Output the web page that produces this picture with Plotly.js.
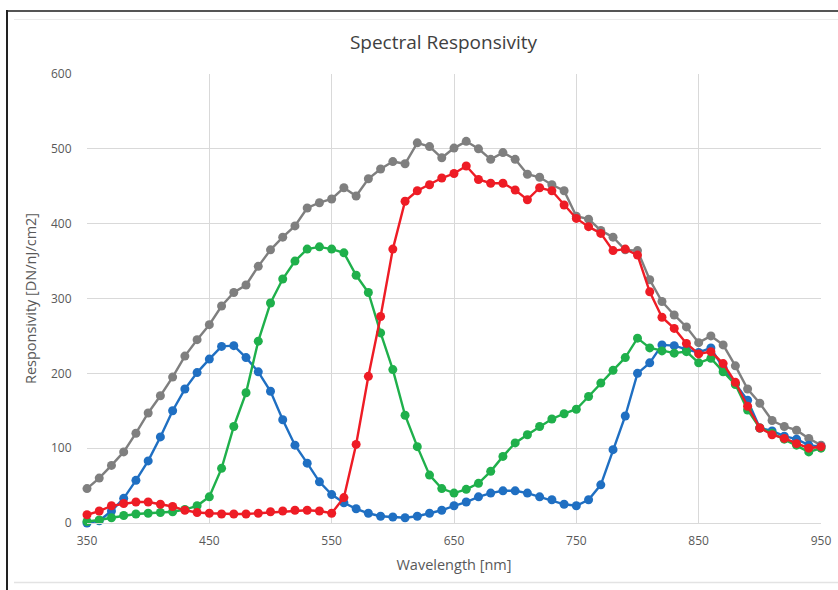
<!DOCTYPE html>
<html>
<head>
<meta charset="utf-8">
<script src="https://cdn.plot.ly/plotly-3.0.1.min.js"></script>
<style>
  html, body { margin: 0; padding: 0; background: #ffffff; }
  #chart { width: 838px; height: 590px; }
</style>
</head>
<body>
<div id="chart"></div>
<script>
// Wavelength categories (nm)
const wavelengths = [350,360,370,380,390,400,410,420,430,440,
  450,460,470,480,490,500,510,520,530,540,
  550,560,570,580,590,600,610,620,630,640,
  650,660,670,680,690,700,710,720,730,740,
  750,760,770,780,790,800,810,820,830,840,
  850,860,870,880,890,900,910,920,930,940,950];

// Responsivity values [DN/nJ/cm2]
const monoValues = [46,60,77,95,120,147,170,195,223,245,
  265,290,308,318,343,365,382,397,421,428,
  433,448,437,460,473,483,480,508,503,488,
  501,510,500,486,495,486,466,462,452,444,
  410,406,391,382,365,364,325,296,278,262,
  241,250,238,210,179,160,137,129,124,113,104];

const blueValues = [0,3,16,33,57,83,115,150,179,201,
  219,236,237,221,202,176,138,104,80,55,
  38,27,19,13,9,8,7,9,13,17,
  23,28,35,40,43,43,40,35,31,25,
  23,31,51,98,143,200,214,238,237,232,
  228,234,207,186,164,127,123,116,112,104,102];

const greenValues = [2,4,7,10,12,13,14,15,18,23,
  35,73,129,174,243,294,326,350,366,369,
  366,361,331,308,254,205,144,102,64,46,
  40,45,53,69,89,107,118,129,139,146,
  152,169,187,204,221,247,234,230,227,229,
  214,220,202,185,151,127,120,112,104,95,100];

const redValues = [11,16,23,26,28,28,25,22,17,14,
  13,12,12,12,13,15,16,17,17,16,
  13,34,105,196,276,366,430,444,452,461,
  467,477,459,454,454,445,432,448,444,425,
  407,396,387,364,366,358,309,275,260,240,
  226,229,213,188,156,127,118,113,106,100,102];

const xTicks = [350,450,550,650,750,850,950];
const yTicks = [0,100,200,300,400,500,600];

function series(name, y, color) {
  return {
    type: 'scatter', mode: 'lines+markers', name: name,
    x: wavelengths, y: y,
    cliponaxis: false,
    line: { color: color, width: 2.4 },
    marker: { color: color, size: 9, symbol: 'circle' },
    hoverinfo: 'x+y'
  };
}

const traces = [
  series('Mono', monoValues, '#7f7f7f'),
  series('Blue', blueValues, '#1f6fc2'),
  series('Green', greenValues, '#1fb04b'),
  series('Red', redValues, '#ee1c25')
];

// plot area in pixels
const L = 87, R = 821, T = 74, B = 523, W = 838, H = 590;
const px = v => (v - L) / (R - L);
const py = v => (B - v) / (B - T);

const layout = {
  width: W, height: H,
  margin: { l: L, r: W - R, t: T, b: H - B, pad: 0 },
  paper_bgcolor: '#ffffff',
  plot_bgcolor: '#ffffff',
  showlegend: false,
  font: { family: 'Open Sans, sans-serif', color: '#595959', size: 12 },
  title: {
    text: 'Spectral Responsivity',
    font: { family: 'Open Sans, sans-serif', size: 19, color: '#404040' },
    x: 443.5 / W, xanchor: 'center', xref: 'container',
    y: 1 - 42 / H, yanchor: 'middle', yref: 'container'
  },
  xaxis: {
    range: [350, 950],
    tickvals: xTicks,
    ticktext: xTicks.map(String),
    showgrid: true, gridcolor: '#d9d9d9', gridwidth: 1,
    zeroline: false,
    showline: true, linecolor: '#d9d9d9', linewidth: 1,
    ticks: 'outside', ticklen: 7, tickcolor: 'rgba(0,0,0,0)',
    tickfont: { family: 'Open Sans, sans-serif', size: 12, color: '#595959' },
    title: { text: 'Wavelength [nm]', standoff: 11,
      font: { family: 'Open Sans, sans-serif', size: 14.5, color: '#595959' } }
  },
  yaxis: {
    range: [0, 600],
    tickvals: yTicks,
    ticktext: yTicks.map(String),
    showgrid: true, gridcolor: '#d9d9d9', gridwidth: 1,
    zeroline: false,
    showline: false,
    ticks: 'outside', ticklen: 12, tickcolor: 'rgba(0,0,0,0)',
    tickfont: { family: 'Open Sans, sans-serif', size: 12, color: '#595959' },
    title: { text: 'Responsivity [DN/nJ/cm2]', standoff: 10,
      font: { family: 'Open Sans, sans-serif', size: 14.5, color: '#595959' } }
  },
  shapes: [
    // screenshot frame: dark top and left edges, faint inner lines
    { type: 'line', xref: 'paper', yref: 'paper', x0: px(6), x1: px(838), y0: py(11), y1: py(11),
      line: { color: '#555555', width: 2 } },
    { type: 'line', xref: 'paper', yref: 'paper', x0: px(7), x1: px(7), y0: py(10), y1: py(590),
      line: { color: '#222222', width: 2 } },
    { type: 'line', xref: 'paper', yref: 'paper', x0: px(14), x1: px(838), y0: py(19.5), y1: py(19.5),
      line: { color: '#ececec', width: 1 } },
    { type: 'line', xref: 'paper', yref: 'paper', x0: px(14), x1: px(838), y0: py(582.5), y1: py(582.5),
      line: { color: '#e3e3e3', width: 1.5 } }
  ]
};

Plotly.newPlot('chart', traces, layout, { staticPlot: true, displayModeBar: false });
</script>
</body>
</html>
